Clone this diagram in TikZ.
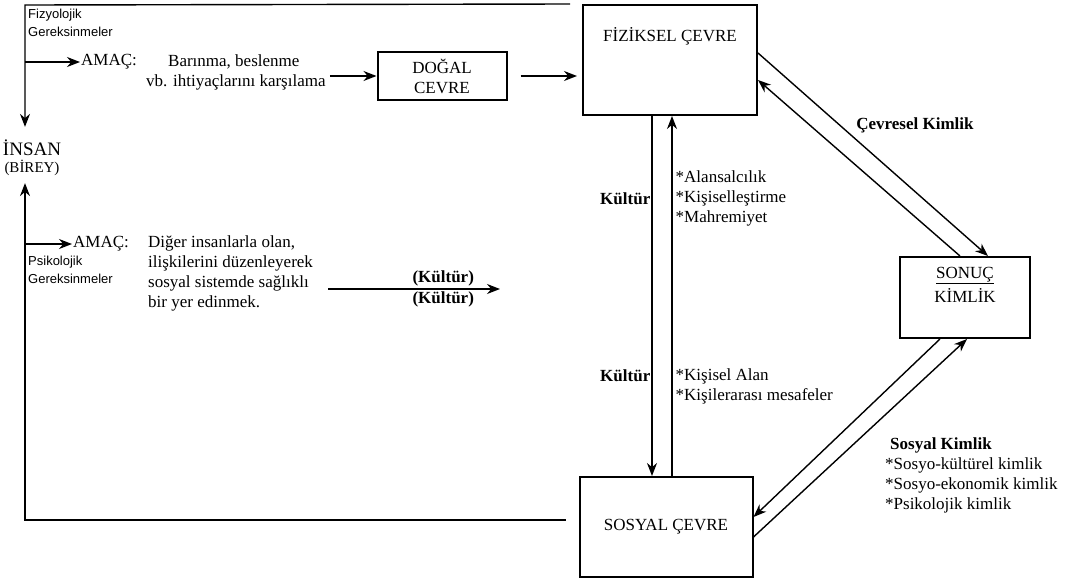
\documentclass[tikz,border=0pt]{standalone}
\usepackage{fontspec}
\setmainfont{Liberation Serif}
\newfontfamily\notefont{Liberation Sans}
\usetikzlibrary{arrows.meta, positioning}
\newcommand\fsmain{\fontsize{17}{20}\selectfont}
\newcommand\fsnote{\notefont\fontsize{13}{18}\selectfont}
\tikzset{
    envbox/.style={draw, line width=2pt, align=center, inner sep=2pt, font=\fsmain},
    txt/.style={font=\fsmain, inner sep=1pt, align=left},
    klabel/.style={font=\fsmain\bfseries, inner sep=2pt},
    note/.style={font=\fsnote, inner sep=1pt, align=left},
    flow/.style={-{Stealth[length=13pt, width=10pt]}, line width=1.4pt}
}
\begin{document}
\begin{tikzpicture}[x=1pt, y=-1pt]
    \useasboundingbox (0,0) rectangle (1072,582);

    % environments
    \node[envbox, minimum width=129pt, minimum height=48pt] (dogal) at (442,76) {DOĞAL\\CEVRE};
    \node[envbox, minimum width=174pt, minimum height=110pt] (fiziksel) at (670,60) {};
    \node[txt, below=22pt of fiziksel.north] (fizlabel) {FİZİKSEL ÇEVRE};
    \node[envbox, minimum width=173pt, minimum height=100pt] (sosyal) at (666,527) {SOSYAL ÇEVRE};
    \node[envbox, minimum width=130pt, minimum height=81pt] (sonuc) at (965,297.5) {};
    \node[txt, align=center, below=10pt of sonuc.north] (sonuclabel) {\underline{SONUÇ}\\[4pt]KİMLİK};

    % human and needs
    \node[font=\fontsize{19}{22}\selectfont, inner sep=1pt] (insan) at (32,148) {İNSAN};
    \node[font=\fontsize{15}{18}\selectfont, inner sep=1pt, below=2pt of insan] (birey) {(BİREY)};
    \node[note, anchor=north west] (fizyo) at (27,8) {Fizyolojik\\Gereksinmeler};
    \node[txt, anchor=west] (amac1) at (80,62) {AMAÇ:};
    \node[txt, anchor=west] (barinma) at (167,62) {Barınma, beslenme};
    \node[txt, anchor=west] (ihtiyac) at (145,82) {vb. ihtiyaçlarını karşılama};
    \node[txt, anchor=west] (amac2) at (72,244) {AMAÇ:};
    \node[txt, anchor=north west] (diger) at (147,234) {Diğer insanlarla olan,\\ilişkilerini düzenleyerek\\sosyal sistemde sağlıklı\\bir yer edinmek.};
    \node[note, anchor=north west] (psiko) at (27,255) {Psikolojik\\Gereksinmeler};

    % left rail
    \coordinate (railtop) at (25,5);
    \coordinate (railbot) at ([xshift=-13pt, yshift=7pt]sosyal.west);
    \draw[flow] ([xshift=-12pt]fiziksel.north west) -- (railtop) -- ([yshift=12pt]railtop |- insan.north);
    \draw[flow] (railtop |- amac1.west) -- (amac1.west);
    \draw[flow] (railbot) -- (railbot -| railtop) -- ([yshift=-6pt]railtop |- birey.south);
    \draw[flow] (railtop |- amac2.west) -- (amac2.west);

    % top row
    \draw[flow] ([xshift=3pt]ihtiyac.east |- dogal.west) -- (dogal.west);
    \draw[flow] ([xshift=13pt]dogal.east) -- ([xshift=-5pt]dogal.east -| fiziksel.west);

    % culture
    \coordinate (kstart) at (328,289);
    \coordinate (kend) at (500,289);
    \draw[flow] (kstart) -- node[klabel, pos=0.67, above] {(Kültür)} node[klabel, pos=0.67, below] {(Kültür)} (kend);
    \draw[flow] ([xshift=-18pt]fiziksel.south) -- ([xshift=-18pt]fiziksel.south |- sosyal.north)
        node[klabel, pos=0.23, left, inner sep=1pt] {Kültür}
        node[klabel, pos=0.72, left, inner sep=1pt] {Kültür};
    \draw[flow] ([xshift=2pt]fiziksel.south |- sosyal.north) -- ([xshift=2pt]fiziksel.south)
        node[txt, pos=0.77, right, inner sep=3pt] {*Alansalcılık\\{}*Kişiselleştirme\\{}*Mahremiyet}
        node[txt, pos=0.25, right, inner sep=3pt] {*Kişisel Alan\\{}*Kişilerarası mesafeler};

    % identity
    \draw[flow] ([yshift=7pt]fiziksel.east) -- ([xshift=23pt]sonuc.north);
    \draw[flow] ([xshift=-5pt]sonuc.north) -- ([yshift=-20pt]fiziksel.east);
    \draw[flow] ([xshift=-25pt]sonuc.south) -- ([yshift=10pt]sosyal.east);
    \draw[flow] ([yshift=-10pt]sosyal.east) -- ([xshift=2pt]sonuc.south);
    \node[klabel] (cevresel) at (915,125) {Çevresel Kimlik};
    \node[txt, anchor=north west] (sosyalk) at (884,436) {\hspace{5pt}\textbf{Sosyal Kimlik}\\{}*Sosyo-kültürel kimlik\\{}*Sosyo-ekonomik kimlik\\{}*Psikolojik kimlik};
\end{tikzpicture}
\end{document}
